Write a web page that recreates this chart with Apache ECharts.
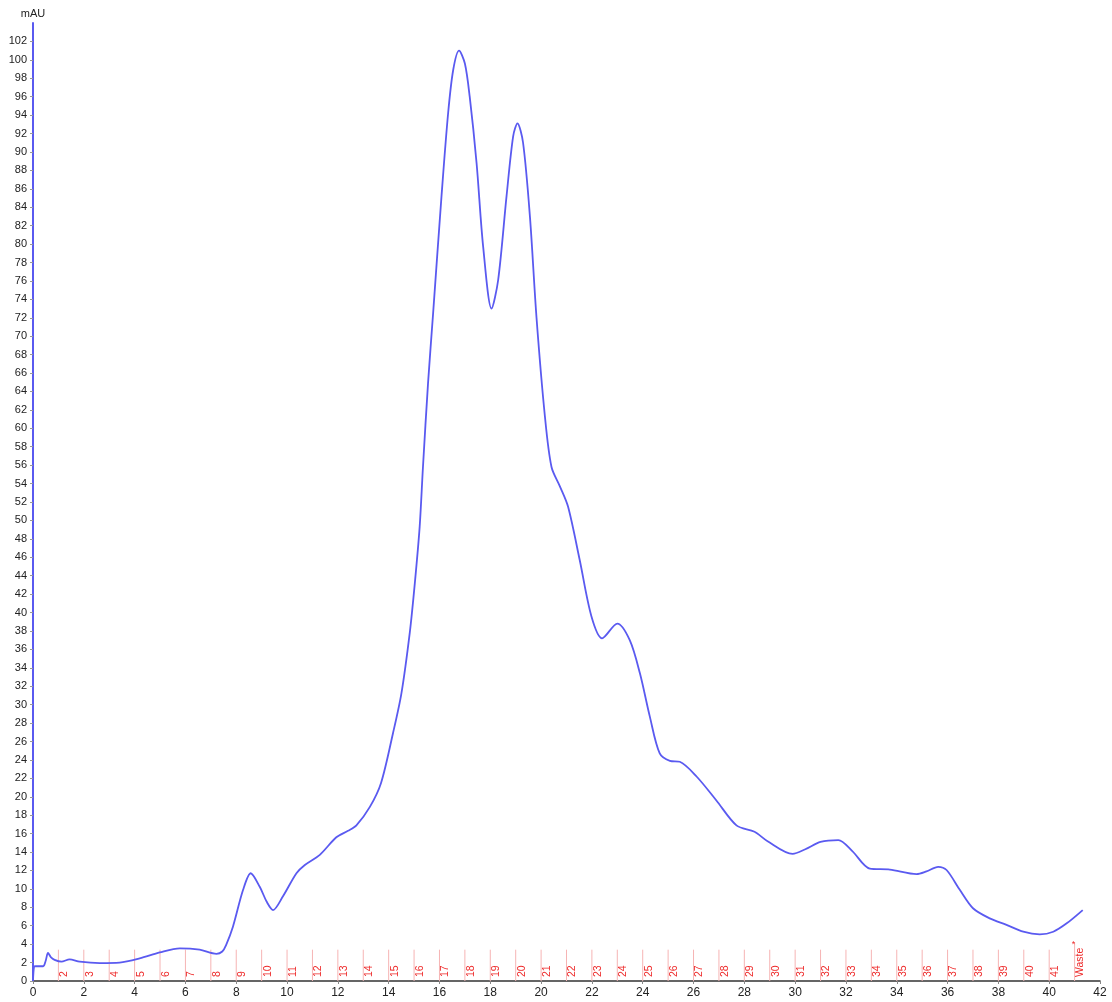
<!DOCTYPE html>
<html>
<head>
<meta charset="utf-8">
<script src="https://cdn.jsdelivr.net/npm/echarts@6/dist/echarts.min.js"></script>
<style>
  html, body { margin: 0; padding: 0; background: #fff; }
  #chart { width: 1112px; height: 1002px; }
</style>
</head>
<body>
<div id="chart"></div>
<script>
// UV absorbance trace (mAU) against elution volume
const elutionVolume = [
  0, 0.04, 0.1, 0.4, 0.5, 0.59, 0.7, 0.85, 1.12, 1.44, 1.84, 2.63, 3.41, 4.2, 4.99,
  5.78, 6.56, 7.22, 7.45, 7.6, 7.87, 8.27, 8.57, 8.93, 9.2, 9.45, 9.84, 10.37, 10.7,
  11.29, 11.94, 12.4, 12.73, 13.26, 13.7, 14.17, 14.5, 14.83, 15.03, 15.22, 15.35,
  15.55, 15.75, 16.08, 16.34, 16.54, 16.77, 17.0, 17.19, 17.46, 17.72, 18.05, 18.31,
  18.64, 18.9, 19.07, 19.29, 19.56, 19.82, 20.15, 20.41, 20.74, 21.06, 21.52,
  21.98, 22.4, 23.0, 23.49, 23.89, 24.28, 24.67, 25.07, 25.46, 26.12, 26.9, 27.69,
  28.4, 28.9, 29.9, 30.4, 31.0, 31.7, 32.25, 32.94, 33.73, 34.78, 35.17, 35.63,
  35.96, 36.48, 37.0, 37.66, 38.32, 38.98, 39.63, 40.16, 40.69, 41.32
];
const absorbance = [
  0, 1.55, 1.6, 1.6, 2.2, 3.05, 2.6, 2.3, 2.1, 2.35, 2.1, 1.95, 2.0, 2.45, 3.1,
  3.55, 3.4, 2.95, 3.2, 3.9, 5.9, 9.9, 11.7, 10.2, 8.6, 7.7, 9.2, 11.7, 12.6,
  13.7, 15.6, 16.3, 16.9, 18.9, 21.5, 26.9, 31.2, 37.8, 43.2, 49.3, 55.8,
  64.9, 72.5, 85.2, 94.2, 98.9, 101.0, 99.6, 96.0, 88.8, 79.7, 73.0, 76.1,
  85.2, 91.7, 93.1, 91.0, 83.0, 72.0, 61.3, 55.8, 53.7, 51.5, 45.7,
  39.6, 37.2, 38.8, 37.0, 33.4, 28.7, 24.7, 23.9, 23.8, 22.2, 19.6, 16.9,
  16.2, 15.2, 13.8, 14.3, 15.1, 15.3, 14.1, 12.2, 12.1, 11.6, 11.9, 12.4,
  12.05, 9.9, 7.9, 6.8, 6.1, 5.35, 5.07, 5.35, 6.26, 7.7
];

// Fraction collector marks: start volume of each fraction and its label
const fractionStarts = [
  1, 2, 3, 4, 5, 6, 7, 8, 9, 10, 11, 12, 13, 14, 15, 16, 17, 18, 19, 20,
  21, 22, 23, 24, 25, 26, 27, 28, 29, 30, 31, 32, 33, 34, 35, 36, 37, 38, 39, 40, 41
];
const fractionLabels = [
  '2', '3', '4', '5', '6', '7', '8', '9', '10', '11', '12', '13', '14', '15', '16',
  '17', '18', '19', '20', '21', '22', '23', '24', '25', '26', '27', '28', '29', '30',
  '31', '32', '33', '34', '35', '36', '37', '38', '39', '40', '41', 'Waste'
];

const FONT = '"Liberation Sans", Arial, sans-serif';
const traceData = elutionVolume.map((v, i) => [v, absorbance[i]]);
const fractionData = fractionStarts.map((v, i) => [v, 0, fractionLabels[i]]);

function renderFraction(params, api) {
  const x = api.value(0);
  const label = fractionLabels[params.dataIndex];
  const isWaste = label === 'Waste';
  const base = api.coord([x, 0]);
  const top = api.coord([x, isWaste ? 4.2 : 3.4]);
  const children = [
    {
      type: 'line',
      shape: { x1: base[0], y1: base[1], x2: top[0], y2: top[1] },
      style: { stroke: '#f6b4b4', lineWidth: 1 }
    },
    {
      type: 'text',
      x: base[0] + 6,
      y: base[1] - 4,
      rotation: Math.PI / 2,
      style: {
        text: label,
        fill: '#ee2a2a',
        font: '10.5px ' + FONT,
        align: 'left',
        verticalAlign: 'middle'
      }
    }
  ];
  if (isWaste) {
    children.push({
      type: 'text',
      x: top[0] - 1,
      y: top[1] + 2,
      style: { text: '*', fill: '#ee2a2a', font: '9px ' + FONT, align: 'center', verticalAlign: 'middle' }
    });
  }
  return { type: 'group', children };
}

const chart = echarts.init(document.getElementById('chart'), null, { renderer: 'canvas' });
chart.setOption({
  backgroundColor: '#ffffff',
  animation: false,
  grid: { left: 33, right: 12, top: 23, bottom: 21, containLabel: false },
  xAxis: {
    type: 'value',
    min: 0,
    max: 42,
    interval: 2,
    axisLine: { show: true, onZero: false, lineStyle: { color: '#333', width: 1.5 } },
    axisTick: { show: true, length: 3, lineStyle: { color: '#888' } },
    axisLabel: { color: '#222', fontSize: 12, fontFamily: FONT, margin: 6 },
    splitLine: { show: false }
  },
  yAxis: {
    type: 'value',
    name: 'mAU',
    nameLocation: 'end',
    nameGap: 4,
    nameTextStyle: { color: '#222', fontSize: 11, fontFamily: FONT, align: 'center' },
    min: 0,
    max: 104,
    interval: 2,
    axisLine: { show: true, lineStyle: { color: '#5a5af0', width: 2 } },
    axisTick: { show: true, length: 3, lineStyle: { color: '#999' } },
    axisLabel: { color: '#222', fontSize: 11, fontFamily: FONT, margin: 6, showMaxLabel: false },
    splitLine: { show: false }
  },
  series: [
    {
      type: 'custom',
      name: 'Fractions',
      data: fractionData,
      renderItem: renderFraction,
      silent: true,
      clip: false,
      z: 1
    },
    {
      type: 'line',
      name: 'UV',
      data: traceData,
      smooth: 0.3,
      showSymbol: false,
      symbol: 'none',
      lineStyle: { color: '#5a5af0', width: 1.8 },
      z: 3
    }
  ]
});
</script>
</body>
</html>
